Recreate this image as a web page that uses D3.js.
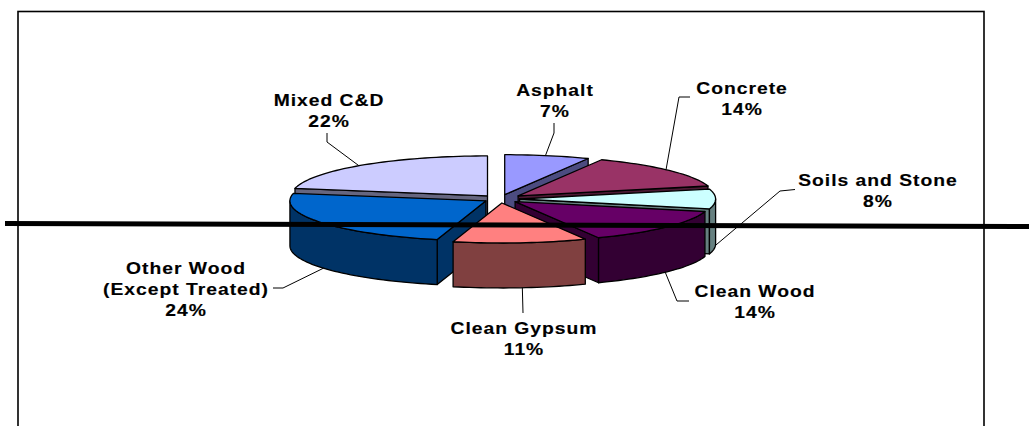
<!DOCTYPE html>
<html><head><meta charset="utf-8">
<script src="https://cdn.jsdelivr.net/npm/d3@7"></script>
<style>html,body{margin:0;padding:0;background:#fff;overflow:hidden}
text{font-family:"Liberation Sans",Arial,sans-serif;font-weight:700;font-size:16.5px;letter-spacing:.85px;fill:#000;stroke:#000;stroke-width:.15px;text-anchor:middle}</style>
</head><body><svg id="c" width="1029" height="426"></svg>
<script>
const categories=["Asphalt","Concrete","Soils and Stone","Clean Wood","Clean Gypsum","Other Wood|(Except Treated)","Mixed C&D"];
const shares=[7,14,8,14,11,24,22];
const topColors=["#9999FF","#993366","#CCFFFF","#660066","#FF8080","#0066CC","#CCCCFF"];
const sideColors=["#4C4C80","#4C1933","#668080","#330033","#804040","#003366","#666680"];
const explode=[0.11,0.12,0.10,0.10,0.10,0.085,0.10];
const drawOrder=[6,0,1,2,5,3,4];
// label layout: centre x, first baseline y, leader bend points, degree on rim
const labelX=[555,742,878,755,524,186,329];
const labelY=[95.5,93.5,185.5,296.5,333.5,273.5,105.5];
const leaderAngle=[12,49,92,130,174,236,319];
const leaderBend=[[554,133,554,123],[679,97,690,97],[780,191,795,189.5],[677,301,689,301],[523,313],[283,288,273,288],[327,142,327,133]];

const svg=d3.select("#c");
const W=1029,H=426,cx=500,cy=199,R=196,rr=40,depth=45;
const px=d3.scaleLinear([-1,1],[cx-R,cx+R]), py=d3.scaleLinear([-1,1],[cy-rr,cy+rr]);
const arcs=d3.pie().sort(null).startAngle(0).endAngle(2*Math.PI)(shares);

svg.append("rect").attr("x",18).attr("y",11.5).attr("width",966).attr("height",H+20).attr("fill","#fff").attr("stroke","#000").attr("stroke-width",1.6);

const line=d3.line();
function geom(i){
  const a=arcs[i],m=(a.startAngle+a.endAngle)/2,e=explode[i];
  const ox=e*Math.sin(m),oy=-e*Math.cos(m);
  const pt=(t,k=1,d=0)=>[px(ox+k*Math.sin(t)),py(oy-k*Math.cos(t))+d];
  return {a,pt};
}
function rim(g,t0,t1,d){
  const n=Math.max(2,Math.ceil((t1-t0)/0.03));
  return d3.range(n+1).map(j=>g.pt(t0+(t1-t0)*j/n,1,d));
}
const G=svg.append("g").attr("stroke","#000").attr("stroke-width",1.3).attr("stroke-linejoin","round");
drawOrder.forEach(i=>{
  const g=geom(i),s=g.a.startAngle,e=g.a.endAngle,side=sideColors[i];
  const face=t=>G.append("path").attr("fill",side).attr("d",line([g.pt(t,0),g.pt(t),g.pt(t,1,depth),g.pt(t,0,depth)])+"Z");
  if(Math.sin(s)<-1e-6)face(s);
  if(Math.sin(e)>1e-6)face(e);
  const w0=Math.max(s,Math.PI/2),w1=Math.min(e,Math.PI*1.5);
  if(w1>w0)G.append("path").attr("fill",side).attr("d",line([...rim(g,w0,w1,0),...rim(g,w0,w1,depth).reverse()])+"Z");
  G.append("path").attr("fill",topColors[i]).attr("d",line([g.pt(s,0),...rim(g,s,e,0)])+"Z");
});

// leaders and labels
const L=svg.append("g").attr("fill","none").attr("stroke","#000").attr("stroke-width",1);
const stretchX=1.17;
categories.forEach((c,i)=>{
  const g=geom(i),t=leaderAngle[i]*Math.PI/180,front=Math.cos(t)<0;
  const p0=g.pt(t,1,front?depth:0),b=leaderBend[i],pts=[p0];
  for(let j=0;j<b.length;j+=2)pts.push([b[j],b[j+1]]);
  L.append("path").attr("d",line(pts));
  const lines=[...c.split("|"),shares[i]+"%"];
  const T=svg.append("text").attr("transform",`translate(${labelX[i]},${labelY[i]}) scale(${stretchX},1)`);
  lines.forEach((s,j)=>T.append("tspan").attr("x",0).attr("dy",j?21.5:0).text(s));
});

// heavy rule over the chart
const rule=[[5,223.5],[W,226.5]];
svg.append("path").attr("d",line(rule)).attr("stroke","#000").attr("stroke-width",5).attr("fill","none");
</script></body></html>
